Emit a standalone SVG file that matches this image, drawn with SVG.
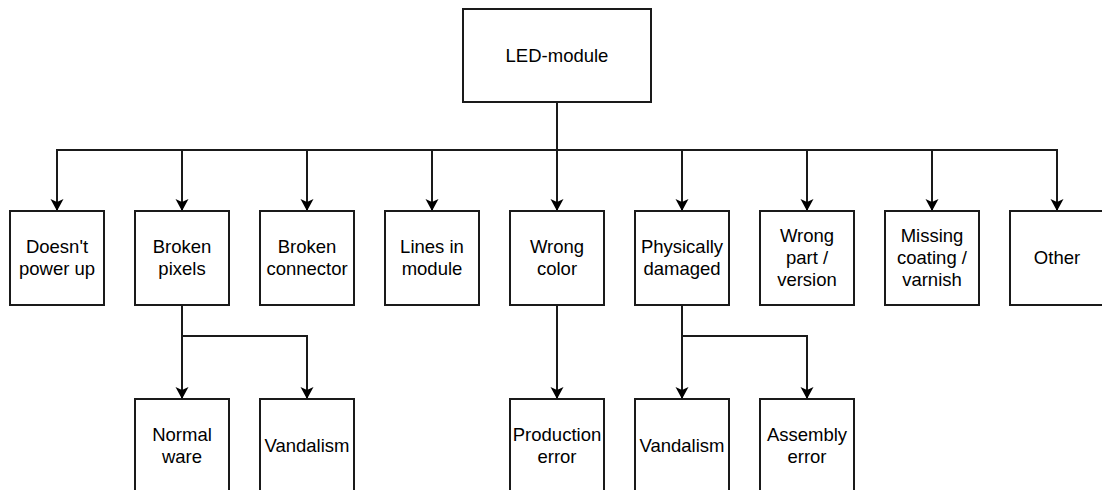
<svg xmlns="http://www.w3.org/2000/svg" width="1102" height="490" viewBox="0 0 1102 490">
  <style>
    .box { fill: #ffffff; stroke: #1a1a1a; stroke-width: 2; }
    .lbl { font-family: "Liberation Sans", Arial, sans-serif; font-size: 18.5px; fill: #000000; text-anchor: middle; }
    .edge { fill: none; stroke: #1a1a1a; stroke-width: 2; marker-end: url(#arrow); }
    .link { fill: none; stroke: #1a1a1a; stroke-width: 2; }
  </style>
  <defs>
    <!-- classic notched arrowhead, tip at the end of the path -->
    <marker id="arrow" markerUnits="userSpaceOnUse" markerWidth="14" markerHeight="14" viewBox="-13 -7 14 14" refX="0" refY="0" orient="auto">
      <path d="M0 0 L-12 -6.5 L-9 0 L-12 6.5 Z" fill="#000000"/>
    </marker>
  </defs>
  <rect width="1102" height="490" fill="#ffffff"/>

  <!-- connectors -->
  <g id="connectors">
    <path class="link" d="M557 102 V150"/>
    <path class="edge" d="M557 150 H57 V211"/>
    <path class="edge" d="M182 150 V211"/>
    <path class="edge" d="M307 150 V211"/>
    <path class="edge" d="M432 150 V211"/>
    <path class="edge" d="M557 150 V211"/>
    <path class="edge" d="M682 150 V211"/>
    <path class="edge" d="M807 150 V211"/>
    <path class="edge" d="M932 150 V211"/>
    <path class="edge" d="M557 150 H1057 V211"/>
    <path class="edge" d="M182 305 V399"/>
    <path class="edge" d="M182 336 H307 V399"/>
    <path class="edge" d="M557 305 V399"/>
    <path class="edge" d="M682 305 V399"/>
    <path class="edge" d="M682 336 H807 V399"/>
  </g>

  <!-- root -->
  <g id="led-module">
    <rect class="box" x="463" y="9" width="188" height="93"/>
    <text class="lbl" x="557" y="62">LED-module</text>
  </g>

  <!-- first level -->
  <g id="doesnt-power-up">
    <rect class="box" x="10" y="211" width="94" height="94"/>
    <text class="lbl" x="57" y="253">Doesn't</text>
    <text class="lbl" x="57" y="275">power up</text>
  </g>
  <g id="broken-pixels">
    <rect class="box" x="135" y="211" width="94" height="94"/>
    <text class="lbl" x="182" y="253">Broken</text>
    <text class="lbl" x="182" y="275">pixels</text>
  </g>
  <g id="broken-connector">
    <rect class="box" x="260" y="211" width="94" height="94"/>
    <text class="lbl" x="307" y="253">Broken</text>
    <text class="lbl" x="307" y="275">connector</text>
  </g>
  <g id="lines-in-module">
    <rect class="box" x="385" y="211" width="94" height="94"/>
    <text class="lbl" x="432" y="253">Lines in</text>
    <text class="lbl" x="432" y="275">module</text>
  </g>
  <g id="wrong-color">
    <rect class="box" x="510" y="211" width="94" height="94"/>
    <text class="lbl" x="557" y="253">Wrong</text>
    <text class="lbl" x="557" y="275">color</text>
  </g>
  <g id="physically-damaged">
    <rect class="box" x="635" y="211" width="94" height="94"/>
    <text class="lbl" x="682" y="253">Physically</text>
    <text class="lbl" x="682" y="275">damaged</text>
  </g>
  <g id="wrong-part-version">
    <rect class="box" x="760" y="211" width="94" height="94"/>
    <text class="lbl" x="807" y="242">Wrong</text>
    <text class="lbl" x="807" y="264">part /</text>
    <text class="lbl" x="807" y="286">version</text>
  </g>
  <g id="missing-coating-varnish">
    <rect class="box" x="885" y="211" width="94" height="94"/>
    <text class="lbl" x="932" y="242">Missing</text>
    <text class="lbl" x="932" y="264">coating /</text>
    <text class="lbl" x="932" y="286">varnish</text>
  </g>
  <g id="other">
    <rect class="box" x="1010" y="211" width="94" height="94"/>
    <text class="lbl" x="1057" y="264">Other</text>
  </g>

  <!-- second level -->
  <g id="normal-ware">
    <rect class="box" x="135" y="399" width="94" height="94"/>
    <text class="lbl" x="182" y="441">Normal</text>
    <text class="lbl" x="182" y="463">ware</text>
  </g>
  <g id="vandalism-pixels">
    <rect class="box" x="260" y="399" width="94" height="94"/>
    <text class="lbl" x="307" y="452">Vandalism</text>
  </g>
  <g id="production-error">
    <rect class="box" x="510" y="399" width="94" height="94"/>
    <text class="lbl" x="557" y="441">Production</text>
    <text class="lbl" x="557" y="463">error</text>
  </g>
  <g id="vandalism-damage">
    <rect class="box" x="635" y="399" width="94" height="94"/>
    <text class="lbl" x="682" y="452">Vandalism</text>
  </g>
  <g id="assembly-error">
    <rect class="box" x="760" y="399" width="94" height="94"/>
    <text class="lbl" x="807" y="441">Assembly</text>
    <text class="lbl" x="807" y="463">error</text>
  </g>
</svg>
